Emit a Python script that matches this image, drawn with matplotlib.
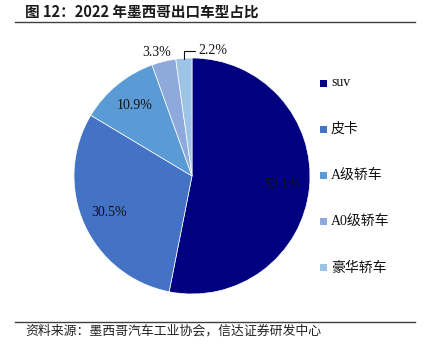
import numpy as np
import matplotlib
matplotlib.use("Agg")
import matplotlib.pyplot as plt
from matplotlib.patches import Rectangle
from matplotlib.lines import Line2D

plt.rcParams['font.family'] = ['Liberation Serif', 'Noto Sans CJK SC', 'DejaVu Sans']

# data
categories = ["suv", "皮卡", "A级轿车", "A0级轿车", "豪华轿车"]
shares = [53.1, 30.5, 10.9, 3.3, 2.2]
colors = ["#000080", "#4472C4", "#5B9BD5", "#8EA9DB", "#9DC3E6"]
title = "图 12：2022 年墨西哥出口车型占比"
source = "资料来源：墨西哥汽车工业协会，信达证券研发中心"

W, H = 428, 355
fig = plt.figure(figsize=(W / 100, H / 100), dpi=100)

# title and rules
fig.text(25 / W, 1 - 12 / H, title, fontsize=10.5, fontweight="bold",
         family=["Noto Sans CJK SC", "DejaVu Sans"], color="#1a1a1a", va="center")
fig.add_artist(Line2D([15 / W, 415 / W], [1 - 22 / H, 1 - 22 / H], color="#404040", lw=1.0))
fig.add_artist(Line2D([15 / W, 415 / W], [1 - 322 / H, 1 - 322 / H], color="#404040", lw=1.0))
fig.text(25 / W, 1 - 331 / H, source, fontsize=9.3, style="italic",
         family=["Noto Sans CJK SC", "DejaVu Sans"], color="#222222", va="center")

# pie
cx, cy, r = 192, 176, 118
ax = fig.add_axes([(cx - r) / W, 1 - (cy + r) / H, 2 * r / W, 2 * r / H])
wedges, _ = ax.pie(shares, colors=colors, startangle=90, counterclock=False,
                   radius=1, wedgeprops=dict(edgecolor="white", linewidth=0.5))
ax.set_xlim(-1, 1)
ax.set_ylim(-1, 1)
ax.set_aspect("equal")
ax.axis("off")

# percentage labels
cum = np.cumsum([0] + shares)
for i, v in enumerate(shares):
    mid = 90 - (cum[i] + v / 2) * 3.6
    a = np.deg2rad(mid)
    txt = f"{v:.1f}%"
    if v > 5:
        ax.text(0.77 * np.cos(a), 0.77 * np.sin(a), txt, fontsize=10,
                ha="center", va="center", color="#111111")
    elif i == 3:
        ax.text(-0.3, 1.05, txt, fontsize=10, ha="center", va="center", color="#111111")
    else:
        x0, y0 = 0.99 * np.cos(a), 0.99 * np.sin(a)
        ax.annotate(txt, xy=(x0, y0), xytext=(0.05, 1.06), fontsize=10,
                    ha="left", va="center", color="#111111",
                    arrowprops=dict(arrowstyle="-", color="#111111", lw=0.8,
                                    connectionstyle="angle,angleA=180,angleB=90,rad=0",
                                    shrinkA=0, shrinkB=0))

# legend
ly0, dy = 83, 46.2
for i, (name, c) in enumerate(zip(categories, colors)):
    y = ly0 + i * dy
    fig.add_artist(Rectangle(((320) / W, 1 - (y + 3.5) / H), 7 / W, 7 / H,
                             transform=fig.transFigure, color=c, lw=0))
    fig.text(331 / W, 1 - y / H, name, fontsize=10, va="center", color="#111111")

fig.savefig("out.png", dpi=100)
